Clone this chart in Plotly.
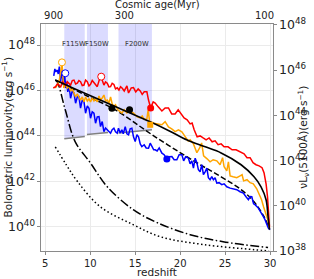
import numpy as np
import plotly.graph_objects as go

# ---------------- data (redshift, log10 luminosity) ----------------
red_z = [5.89, 6.14, 6.33, 6.52, 6.70, 6.89, 7.08, 7.26, 7.44, 7.63, 7.81, 8.00, 8.19, 8.37, 8.56, 8.74,
         8.92, 9.11, 9.30, 9.48, 9.67, 9.86, 10.03, 10.22, 10.41, 10.59, 10.78, 11.00, 11.22, 11.39, 11.52,
         11.70, 11.89, 12.08, 12.26, 12.44, 12.63, 12.81, 13.00, 13.19, 13.37, 13.56, 13.78, 14.08, 14.26,
         14.56, 14.81, 15.06, 15.33, 15.56, 15.78, 16.00, 16.30, 16.48, 16.72, 17.00, 17.22, 17.56, 17.97,
         18.33, 18.70, 19.06, 19.44, 19.78, 20.11, 20.44, 20.78, 21.11, 21.33, 21.56, 21.89, 22.22, 22.56,
         22.89, 23.22, 23.56, 23.89, 24.22, 24.56, 24.89, 25.33, 25.78, 26.22, 26.67, 27.11, 27.44, 27.78,
         28.11, 28.44, 28.78, 29.11, 29.33, 29.56, 29.72, 29.83, 29.94]
red_logL = [46.11, 46.17, 46.29, 46.24, 46.14, 46.38, 46.32, 46.20, 46.39, 46.29, 46.24, 46.44, 46.46, 46.29,
            46.32, 46.44, 46.39, 46.22, 46.24, 46.46, 46.39, 46.20, 46.27, 46.44, 46.36, 46.24, 46.17, 46.46,
            46.60, 46.38, 46.24, 46.38, 46.32, 46.16, 46.17, 46.32, 46.27, 46.07, 46.12, 46.02, 46.17, 46.10,
            45.98, 46.20, 45.89, 46.11, 46.13, 45.94, 46.07, 45.98, 45.83, 45.94, 45.94, 45.58, 45.23, 45.50,
            45.45, 45.28, 45.10, 45.23, 45.23, 44.97, 44.97, 45.15, 44.97, 44.79, 44.71, 44.53, 44.57, 44.27,
            43.96, 44.00, 43.91, 43.83, 43.91, 43.74, 43.78, 43.61, 43.65, 43.52, 43.52, 43.39, 43.39, 43.30,
            43.21, 43.04, 43.04, 42.82, 42.73, 42.68, 42.60, 42.38, 41.89, 41.32, 40.66, 40.00]

orange_z = [6.11, 6.33, 6.56, 6.78, 6.86, 6.94, 7.06, 7.26, 7.44, 7.63, 7.81, 8.00, 8.19, 8.37, 8.56, 8.74,
            8.92, 9.11, 9.30, 9.48, 9.67, 9.86, 10.03, 10.22, 10.41, 10.59, 10.78, 10.97, 11.14, 11.33, 11.52,
            11.70, 11.89, 12.08, 12.26, 12.44, 12.63, 12.81, 13.00, 13.22, 13.52, 13.78, 14.08, 14.26, 14.56,
            14.81, 15.00, 15.22, 15.56, 15.78, 16.00, 16.30, 16.44, 16.61, 16.89, 17.22, 17.56, 17.97, 18.33,
            18.70, 19.06, 19.44, 19.81, 20.19, 20.56, 20.89, 21.11, 21.48, 21.86, 22.17, 22.39, 22.61, 23.00,
            23.33, 23.67, 24.08, 24.44, 24.72, 24.89, 25.19, 25.37, 25.56, 25.89, 26.30, 26.67, 26.89, 27.06,
            27.44, 27.78, 28.14, 28.52, 28.78, 29.06, 29.28, 29.56, 29.78, 29.94]
orange_logL = [46.11, 46.24, 46.46, 47.08, 47.21, 46.68, 46.11, 46.29, 46.11, 46.20, 45.98, 46.07, 45.85,
               45.72, 45.85, 45.67, 45.58, 45.72, 45.50, 45.72, 45.54, 45.63, 45.50, 45.67, 45.54, 45.63,
               45.50, 45.76, 45.58, 45.67, 45.80, 45.54, 45.58, 45.45, 45.72, 45.41, 45.30, 45.37, 45.19,
               45.10, 45.01, 45.15, 45.01, 45.08, 45.06, 45.01, 44.93, 44.84, 44.79, 44.88, 44.73, 44.75,
               45.15, 44.62, 44.57, 44.55, 44.53, 44.49, 44.63, 44.40, 44.31, 44.19, 44.27, 44.18, 43.97,
               43.78, 43.83, 43.65, 43.26, 43.47, 43.69, 43.12, 42.99, 42.86, 42.95, 42.90, 42.73, 43.04,
               42.64, 42.46, 42.86, 42.24, 42.20, 42.16, 42.24, 42.29, 42.02, 42.07, 41.94, 41.89, 41.67,
               41.41, 41.19, 40.88, 40.57, 40.27, 39.96]

blue_z = [5.94, 6.06, 6.17, 6.33, 6.44, 6.56, 6.70, 6.83, 7.00, 7.14, 7.28, 7.39, 7.50, 7.63, 7.81, 8.00,
          8.19, 8.37, 8.56, 8.74, 8.92, 9.11, 9.30, 9.48, 9.67, 9.86, 10.03, 10.22, 10.41, 10.59, 10.78,
          10.97, 11.14, 11.33, 11.52, 11.70, 11.89, 12.26, 12.44, 12.63, 12.81, 13.00, 13.14, 13.33, 13.52,
          13.67, 13.89, 14.08, 14.26, 14.44, 14.63, 14.81, 15.00, 15.19, 15.37, 15.56, 15.74, 16.00, 16.22,
          16.48, 16.67, 16.86, 17.06, 17.22, 17.44, 17.67, 17.97, 18.22, 18.52, 18.78, 19.08, 19.33, 19.63,
          19.89, 20.19, 20.39, 20.61, 20.92, 21.11, 21.30, 21.48, 21.67, 21.86, 22.03, 22.22, 22.41, 22.59,
          22.78, 22.97, 23.14, 23.33, 23.52, 23.70, 23.89, 24.08, 24.33, 24.63, 24.89, 25.19, 25.56, 25.89,
          26.30, 26.67, 27.03, 27.33, 27.59, 27.78, 27.97, 28.17, 28.33, 28.70, 29.08, 29.26, 29.44, 29.67,
          29.81, 30.00]
blue_logL = [46.64, 46.95, 46.82, 46.90, 46.73, 47.05, 46.39, 46.90, 46.24, 46.73, 46.11, 46.38, 45.94,
             46.24, 45.66, 45.98, 45.89, 45.44, 45.72, 45.73, 45.22, 45.58, 45.51, 45.00, 45.32, 45.22,
             44.78, 45.06, 45.00, 44.56, 44.84, 44.85, 44.41, 44.63, 44.19, 44.35, 44.27, 44.12, 44.27,
             44.34, 44.18, 44.12, 44.34, 44.13, 44.27, 44.09, 44.41, 44.09, 44.05, 44.31, 44.34, 43.96,
             43.75, 44.05, 43.96, 43.65, 43.53, 43.61, 43.47, 43.46, 43.68, 43.56, 43.39, 43.39, 43.34,
             43.47, 43.24, 43.17, 42.99, 43.08, 43.09, 42.95, 42.95, 43.17, 43.17, 42.90, 43.08, 43.02,
             42.77, 42.90, 42.58, 43.02, 42.82, 42.51, 42.42, 42.73, 42.29, 42.42, 42.58, 42.16, 42.07,
             42.21, 42.07, 42.16, 41.92, 41.94, 41.85, 41.89, 41.76, 41.70, 41.67, 41.63, 41.54, 41.48,
             41.32, 41.19, 41.33, 41.32, 41.01, 40.97, 40.82, 40.60, 40.44, 40.31, 40.09, 39.94, 39.87]

solid_z = [6.11, 8.5, 11.11, 13.9, 16.67, 18.8, 20.78, 22.7, 24.56, 26.78, 28.22, 29.0, 29.56, 29.78, 29.94]
solid_logL = [46.46, 46.03, 45.58, 45.10, 44.62, 44.22, 43.82, 43.53, 43.25, 42.73, 42.20, 41.76, 41.19,
              40.44, 39.87]

dashed_z = [6.11, 9.44, 12.78, 17.22, 21.67, 24.56, 26.78, 28.22, 29.33, 29.89]
dashed_logL = [46.46, 45.80, 45.15, 43.96, 42.86, 42.20, 41.63, 41.10, 40.44, 39.96]

dashdot_z = [6.11, 6.33, 7.22, 8.33, 10.0, 11.89, 14.78, 17.44, 21.11, 24.78, 29.78]
dashdot_logL = [46.46, 46.38, 45.15, 43.74, 42.82, 41.76, 40.75, 40.18, 39.65, 39.34, 39.08]

dotted_z = [6.11, 7.33, 8.56, 11.11, 14.78, 17.78, 22.67, 28.22, 29.89]
dotted_logL = [43.52, 42.73, 42.00, 40.88, 40.09, 39.56, 39.21, 38.99, 38.93]

# marker points
open_z = [6.85, 7.22, 11.22]
open_logL = [47.24, 46.76, 46.61]
open_colors = ["orange", "blue", "red"]
filled_z = [12.41, 14.37, 16.72, 18.52]
filled_logL = [45.22, 45.15, 45.23, 42.98]
filled_colors = ["black", "black", "red", "blue"]
square_z = [16.67]
square_logL = [44.49]

# JWST filter bands
band_names = ["F115W", "F150W", "F200W"]
band_z0 = [7.11, 9.63, 13.14]
band_z1 = [9.39, 11.97, 16.86]
band_lim0 = [43.87, 44.06, 44.13]
band_lim1 = [43.97, 44.15, 44.27]
band_label_z = [8.15, 10.74, 15.2]

# axes
x_ticks = [5, 10, 15, 20, 25, 30]
age_labels = ["900", "300", "100"]
age_z = [5.92, 13.8, 29.39]

X_RANGE = [4.52, 30.33]
YL_RANGE = [38.93, 48.93]
YR_RANGE = [38.0, 48.04]

FONT = "DejaVu Sans"

fig = go.Figure()

# bands
for n, z0, z1, l0, l1, lz in zip(band_names, band_z0, band_z1, band_lim0, band_lim1, band_label_z):
    fig.add_trace(go.Scatter(x=[z0, z1, z1, z0], y=[10**l0, 10**l1, 10**YL_RANGE[1], 10**YL_RANGE[1]],
                             fill="toself", fillcolor="rgba(0,0,255,0.14)", line=dict(width=0),
                             mode="lines", hoverinfo="skip", showlegend=False))
    fig.add_trace(go.Scatter(x=[z0, z1], y=[10**l0, 10**l1], mode="lines",
                             line=dict(color="#808080", width=1.5), hoverinfo="skip", showlegend=False))
    fig.add_annotation(x=lz, y=48.05, xref="x", yref="y", text=n, showarrow=False,
                       font=dict(family=FONT, size=6.8, color="#333"))

def pw(a):
    return 10 ** np.array(a)

# smooth black curves
fig.add_trace(go.Scatter(x=dotted_z, y=pw(dotted_logL), mode="lines", line_shape="spline",
                         line=dict(color="black", width=1.5, dash="1.5px,2.5px"), showlegend=False))
fig.add_trace(go.Scatter(x=dashdot_z, y=pw(dashdot_logL), mode="lines", line_shape="spline",
                         line=dict(color="black", width=1.5, dash="9px,2.5px,1.5px,2.5px"), showlegend=False))
fig.add_trace(go.Scatter(x=dashed_z, y=pw(dashed_logL), mode="lines", line_shape="spline",
                         line=dict(color="black", width=1.5, dash="5.5px,2.5px"), showlegend=False))

# noisy curves
fig.add_trace(go.Scatter(x=blue_z, y=pw(blue_logL), mode="lines", line=dict(color="blue", width=1.5),
                         showlegend=False))
fig.add_trace(go.Scatter(x=orange_z, y=pw(orange_logL), mode="lines", line=dict(color="orange", width=1.5),
                         showlegend=False))
fig.add_trace(go.Scatter(x=red_z, y=pw(red_logL), mode="lines", line=dict(color="red", width=1.5),
                         showlegend=False))
fig.add_trace(go.Scatter(x=solid_z, y=pw(solid_logL), mode="lines", line_shape="spline",
                         line=dict(color="black", width=1.6), showlegend=False))

# markers
fig.add_trace(go.Scatter(x=open_z, y=pw(open_logL), mode="markers",
                         marker=dict(size=7, color="white", line=dict(color=open_colors, width=1)),
                         showlegend=False))
fig.add_trace(go.Scatter(x=filled_z, y=pw(filled_logL), mode="markers",
                         marker=dict(size=7, color=filled_colors, line=dict(width=0)), showlegend=False))
fig.add_trace(go.Scatter(x=square_z, y=pw(square_logL), mode="markers",
                         marker=dict(size=6, symbol="square", color="orange", line=dict(width=0)),
                         showlegend=False))

# dummy traces to activate secondary axes
fig.add_trace(go.Scatter(x=[10], y=[1e44], xaxis="x2", yaxis="y", mode="markers",
                         marker=dict(opacity=0), hoverinfo="skip", showlegend=False))
fig.add_trace(go.Scatter(x=[10], y=[1e44], xaxis="x", yaxis="y2", mode="markers",
                         marker=dict(opacity=0), hoverinfo="skip", showlegend=False))

axis_common = dict(showline=True, linecolor="#8a8a8a", linewidth=1, ticks="outside", ticklen=3,
                   tickcolor="#8a8a8a", tickfont=dict(family=FONT, size=10, color="#222"), zeroline=False,
                   automargin=False)

top_axis = dict(axis_common)
top_axis["ticks"] = ""

fig.update_layout(
    width=314, height=279,
    margin=dict(l=41, r=41, t=24, b=28),
    paper_bgcolor="white", plot_bgcolor="white",
    font=dict(family=FONT, size=10, color="#222"),
    hovermode=False,
    xaxis=dict(range=X_RANGE, tickvals=x_ticks, showgrid=True, gridcolor="#ebebeb", gridwidth=0.8,
               **axis_common),
    xaxis2=dict(range=X_RANGE, overlaying="x", side="top", anchor="y", tickvals=age_z, ticktext=age_labels,
                showgrid=False, **top_axis),
    yaxis=dict(type="log", range=YL_RANGE, dtick=2, exponentformat="power", showgrid=True,
               gridcolor="#ebebeb", gridwidth=0.8, **axis_common),
    yaxis2=dict(type="log", range=YR_RANGE, dtick=2, exponentformat="power", overlaying="y", side="right",
                anchor="x", showgrid=False, **axis_common),
)

fig.add_annotation(x=0.5, y=1.085, xref="paper", yref="paper", text="Cosmic age(Myr)", showarrow=False,
                   font=dict(family=FONT, size=10, color="#222"), yanchor="middle")
fig.add_annotation(x=0.5, y=-0.092, xref="paper", yref="paper", text="redshift", showarrow=False,
                   font=dict(family=FONT, size=10.5, color="#222"), yanchor="middle")
fig.add_annotation(x=-0.147, y=0.5, xref="paper", yref="paper", text="Bolometric luminovity(erg s<sup>−1</sup>)",
                   showarrow=False, textangle=-90, font=dict(family=FONT, size=10.5, color="#222"),
                   xanchor="center", yanchor="middle")
fig.add_annotation(x=1.13, y=0.5, xref="paper", yref="paper",
                   text="νL<sub>ν</sub>(5100Å)(erg s<sup>−1</sup>)",
                   showarrow=False, textangle=-90, font=dict(family=FONT, size=10.5, color="#222"),
                   xanchor="center", yanchor="middle")

fig.write_html("out.html", config={"displayModeBar": False},
               post_script="document.body.style.margin='0px';")
